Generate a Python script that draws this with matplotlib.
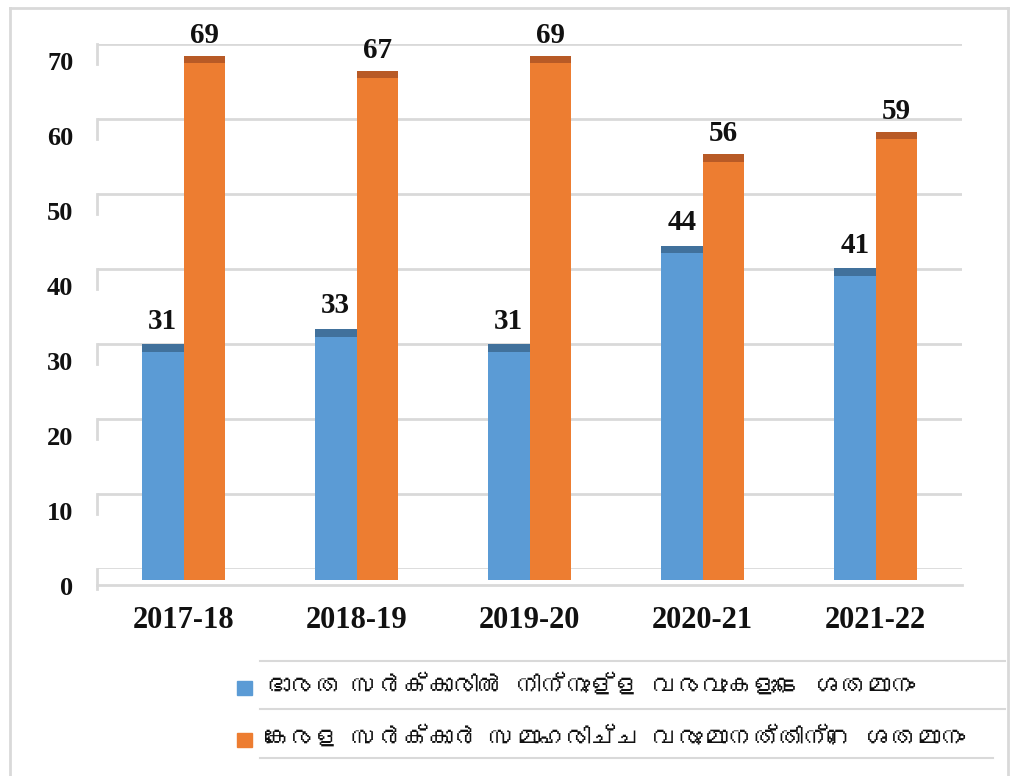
import matplotlib
matplotlib.use("Agg")
import matplotlib.pyplot as plt
from matplotlib import font_manager
from matplotlib.ft2font import FT2Font
from matplotlib.patches import Rectangle
from matplotlib.lines import Line2D
import matplotlib.transforms as mtransforms
import numpy as np

# data
years = ['2017-18', '2018-19', '2019-20', '2020-21', '2021-22']
india_share = [31, 33, 31, 44, 41]
kerala_share = [69, 67, 69, 56, 59]
legend_labels = ['ഭാരത സർക്കാരിൽ നിന്നുള്ള വരവുകളുടെ ശതമാനം',
                 'കേരള സർക്കാർ സമാഹരിച്ച വരുമാനത്തിന്റെ ശതമാനം']
yticks = [0, 10, 20, 30, 40, 50, 60, 70]

blue, blue_top = '#5B9BD5', '#41719C'
orange, orange_top = '#ED7D31', '#B85A26'
grid_col = '#D9D9D9'

W, H = 1013, 776


def find_malayalam_font():
    # look for any installed font that has Malayalam glyphs
    for f in font_manager.fontManager.ttflist:
        try:
            cmap = FT2Font(f.fname).get_charmap()
        except Exception:
            continue
        if 0x0D15 in cmap and 0x0D30 in cmap:
            return f.name
    return None


ml_font = find_malayalam_font()
legend_family = [ml_font, 'Noto Sans', 'DejaVu Sans'] if ml_font else ['Noto Sans', 'DejaVu Sans']

fig = plt.figure(figsize=(W / 100, H / 100), dpi=100)


def fx(px):
    return px / W


def fy(py):
    return 1 - py / H


# back wall with gridlines
gax = fig.add_axes([fx(97), fy(569), fx(962 - 97), fy(44) - fy(569)])
gax.set_xlim(0, 1)
gax.set_ylim(0, 70)
for v in yticks:
    gax.plot([0, 1], [v, v], color=grid_col, lw=2, solid_capstyle='butt')
    gax.plot([0, 0], [v, v - 20 / 7.5], color=grid_col, lw=2, clip_on=False)
# floor edge
gax.plot([0, 1], [-16 / 7.5, -16 / 7.5], color=grid_col, lw=2, clip_on=False)
gax.set_yticks(yticks)
gax.set_yticklabels([str(v) for v in yticks], family='Liberation Serif',
                    fontweight='bold', fontsize=19, color='#111111')
gax.tick_params(axis='y', length=0, pad=17)
offset = mtransforms.ScaledTranslation(0, -17 / 100, fig.dpi_scale_trans)
for lab in gax.get_yticklabels():
    lab.set_transform(lab.get_transform() + offset)
gax.set_xticks([])
for s in gax.spines.values():
    s.set_visible(False)
gax.patch.set_alpha(0)

# bars in front
ax = fig.add_axes([fx(97), fy(580), fx(962 - 97), fy(48) - fy(580)])
ax.set_xlim(-0.5, len(years) - 0.5)
ax.set_ylim(0, 70)
ax.patch.set_alpha(0)
x = np.arange(len(years))
bw = 0.24
cap = 1.0
ax.bar(x - bw / 2, india_share, bw, color=blue, linewidth=0)
ax.bar(x + bw / 2, kerala_share, bw, color=orange, linewidth=0)
ax.bar(x - bw / 2, cap, bw, bottom=np.array(india_share) - cap, color=blue_top, linewidth=0)
ax.bar(x + bw / 2, cap, bw, bottom=np.array(kerala_share) - cap, color=orange_top, linewidth=0)
for xi, v in zip(x - bw / 2, india_share):
    ax.annotate(str(v), (xi, v), xytext=(0, 7), textcoords='offset points',
                ha='center', va='bottom', family='Liberation Serif',
                fontweight='bold', fontsize=21, color='#111111')
for xi, v in zip(x + bw / 2, kerala_share):
    ax.annotate(str(v), (xi, v), xytext=(0, 5), textcoords='offset points',
                ha='center', va='bottom', family='Liberation Serif',
                fontweight='bold', fontsize=21, color='#111111')
ax.set_xticks(x)
ax.set_xticklabels(years, family='Liberation Serif', fontweight='bold',
                   fontsize=22, color='#111111')
ax.tick_params(axis='x', length=0, pad=19)
ax.set_yticks([])
for s in ax.spines.values():
    s.set_visible(False)

# outer frame
for (x0, y0, x1, y1) in [(10, 8, 10, H), (10, 8, 1008, 8), (1008, 8, 1008, H)]:
    fig.add_artist(Line2D([fx(x0), fx(x1)], [fy(y0), fy(y1)], color=grid_col, lw=2))

# legend block
for (x0, x1, yy) in [(260, 1005, 661), (260, 1005, 709), (260, 993, 758)]:
    fig.add_artist(Line2D([fx(x0), fx(x1)], [fy(yy), fy(yy)], color=grid_col, lw=1.5))
for col, lab, yc in [(blue, legend_labels[0], 688), (orange, legend_labels[1], 740)]:
    fig.add_artist(Rectangle((fx(237), fy(yc + 7)), fx(15), fy(yc - 7) - fy(yc + 7),
                             color=col, transform=fig.transFigure))
    fig.text(fx(265), fy(yc - 3), lab, family=legend_family, fontsize=18,
             va='center', ha='left', color='#111111')

fig.savefig('out.png', dpi=100)
